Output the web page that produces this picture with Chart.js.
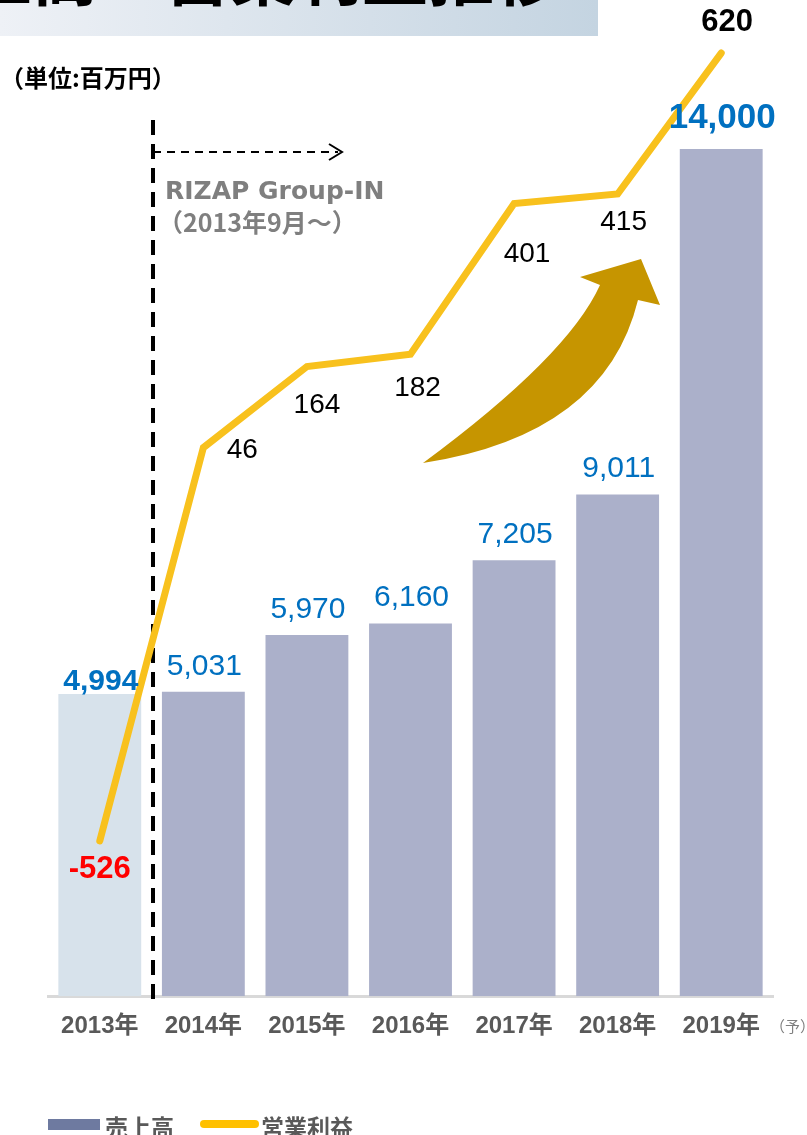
<!DOCTYPE html>
<html>
<head>
<meta charset="utf-8">
<script src="https://cdn.jsdelivr.net/npm/chart.js@4.4.1/dist/chart.umd.min.js"></script>
<style>
  html, body { margin: 0; padding: 0; background: #fff; }
  #wrap { width: 807px; height: 1135px; position: relative; }
</style>
</head>
<body>
<div id="wrap"><canvas id="chartSales"></canvas></div>
<script>
// ── data ──────────────────────────────────────────────────
const years        = ['2013年', '2014年', '2015年', '2016年', '2017年', '2018年', '2019年'];
const salesValues  = [4994, 5031, 5970, 6160, 7205, 9011, 14000];   // figures printed above the bars
const salesBars    = [4994, 5031, 5970, 6160, 7205, 8290, 14000];   // bar heights as drawn (2018 bar is drawn short in the source)
const profitValues = [-526, 46, 164, 182, 401, 415, 620];

// label nudges (style only)
const salesLift   = [4, 17, 17, 17, 17, 17, 21];
const profitShift = [[0, 29], [39, 3], [10, 39], [7, 34], [13, 51], [6, 28], [6, -31]];

const CJK  = "'Liberation Sans', 'Noto Sans CJK JP', sans-serif";
const blue = '#0070C0';
const gold = '#F8C11D';

const annotations = {
  id: 'annotations',
  beforeDatasetsDraw(chart) {
    const c = chart.ctx;
    c.save();
    // dashed divider between 2013 and 2014
    c.strokeStyle = '#000';
    c.lineWidth = 4;
    c.setLineDash([15, 9]);
    c.beginPath();
    c.moveTo(153, 120);
    c.lineTo(153, 1008);
    c.stroke();
    // dashed pointer to the right
    c.lineWidth = 2;
    c.setLineDash([8, 6]);
    c.beginPath();
    c.moveTo(153, 152);
    c.lineTo(338, 152);
    c.stroke();
    c.setLineDash([]);
    c.beginPath();
    c.moveTo(329, 144);
    c.lineTo(342, 152);
    c.lineTo(329, 160);
    c.stroke();

    c.fillStyle = '#7F7F7F';
    c.font = "bold 25px 'DejaVu Sans', 'Noto Sans CJK JP', sans-serif";
    c.textBaseline = 'alphabetic';
    c.fillText('RIZAP Group-IN', 165, 199);
    c.font = "bold 25px 'Noto Sans CJK JP', sans-serif";
    c.fillText('（2013年9月～）', 158, 232);

    // big curved arrow
    c.fillStyle = '#C69500';
    c.beginPath();
    c.moveTo(423, 463);
    c.quadraticCurveTo(568, 356, 600, 285);
    c.lineTo(580, 277);
    c.lineTo(641, 259);
    c.lineTo(660, 305);
    c.lineTo(638, 300);
    c.quadraticCurveTo(605, 435, 423, 463);
    c.closePath();
    c.fill();
    c.restore();
  },
  afterDatasetsDraw(chart) {
    const c = chart.ctx;
    const bars = chart.getDatasetMeta(0).data;
    const pts  = chart.getDatasetMeta(1).data;
    c.save();
    c.textAlign = 'center';
    c.textBaseline = 'alphabetic';
    salesValues.forEach((v, i) => {
      const bold = i === 0 || i === salesValues.length - 1;
      c.font = (bold ? 'bold ' : '') + (i === salesValues.length - 1 ? 35 : 30) + 'px ' + CJK;
      c.fillStyle = blue;
      c.fillText(v.toLocaleString('en-US'), bars[i].x + 1, bars[i].y - salesLift[i]);
    });
    c.textBaseline = 'middle';
    profitValues.forEach((v, i) => {
      const first = i === 0, last = i === profitValues.length - 1;
      c.font = (first || last ? 'bold 31px ' : '28px ') + CJK;
      c.fillStyle = first ? '#FF0000' : '#000';
      c.fillText(String(v), pts[i].x + profitShift[i][0], pts[i].y + profitShift[i][1]);
    });
    c.restore();
  },
  afterDraw(chart) {
    const c = chart.ctx;
    c.save();
    // title banner (cut at the top of the picture)
    const g = c.createLinearGradient(0, 0, 598, 0);
    g.addColorStop(0, '#EEF1F6');
    g.addColorStop(1, '#C4D4E1');
    c.fillStyle = g;
    c.fillRect(0, 0, 598, 36);
    c.fillStyle = '#000';
    c.font = "bold 66px 'Noto Sans CJK JP', sans-serif";
    c.textAlign = 'right';
    c.textBaseline = 'ideographic';
    c.fillText('売上高・営業利益推移', 560, 8);

    c.textAlign = 'left';
    c.textBaseline = 'middle';
    c.font = "bold 24px 'Noto Sans CJK JP', sans-serif";
    c.fillText('（単位:百万円）', 0, 78);

    c.fillStyle = '#7F7F7F';
    c.font = "15px 'Noto Sans CJK JP', sans-serif";
    c.fillText('（予）', 770, 1026);

    // legend
    c.fillStyle = '#6E7AA0';
    c.fillRect(48, 1119, 52, 11);
    c.strokeStyle = '#FFC000';
    c.lineWidth = 8;
    c.lineCap = 'round';
    c.beginPath();
    c.moveTo(204, 1124);
    c.lineTo(255, 1124);
    c.stroke();
    c.fillStyle = '#595959';
    c.font = "bold 23px 'Noto Sans CJK JP', sans-serif";
    c.fillText('売上高', 105, 1127);
    c.fillText('営業利益', 261, 1127);
    c.restore();
  }
};

new Chart(document.getElementById('chartSales'), {
  type: 'bar',
  data: {
    labels: years,
    datasets: [{
      label: '売上高',
      data: salesBars,
      backgroundColor: salesBars.map((v, i) => i === 0 ? '#D7E2EB' : '#ABB0CA'),
      barPercentage: 0.8,
      categoryPercentage: 1,
      yAxisID: 'y',
      order: 1
    }, {
      type: 'line',
      label: '営業利益',
      data: profitValues,
      borderColor: gold,
      borderWidth: 7,
      borderCapStyle: 'round',
      borderJoinStyle: 'miter',
      pointRadius: 0,
      tension: 0,
      clip: false,
      yAxisID: 'y1',
      order: 0
    }]
  },
  options: {
    responsive: true,
    maintainAspectRatio: false,
    animation: false,
    layout: { padding: { left: 48, right: 34, top: 40, bottom: 78 } },
    plugins: { legend: { display: false }, tooltip: { enabled: false } },
    scales: {
      x: {
        grid: { display: false, drawTicks: false },
        border: { display: true, color: '#D9D9D9', width: 3 },
        ticks: { color: '#595959', padding: 16, font: { family: CJK, size: 24, weight: 'bold' } }
      },
      y:  { display: false, min: 0, max: 15800 },
      y1: { display: false, min: -752, max: 639 }
    }
  },
  plugins: [annotations]
});
</script>
</body>
</html>
